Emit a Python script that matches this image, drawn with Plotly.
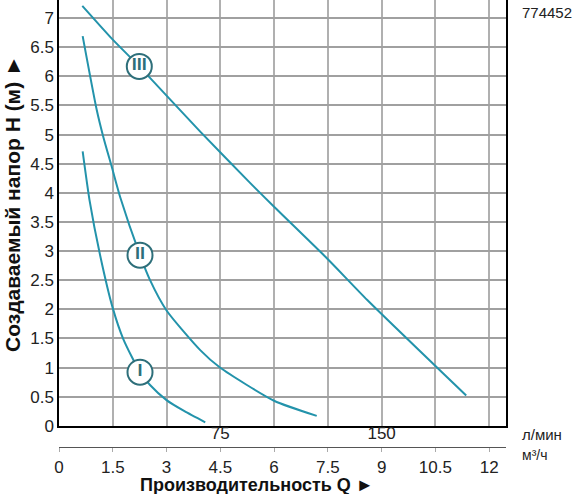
import plotly.graph_objects as go

# ---- data ----
q_I = [0.66, 0.85, 1.15, 1.5, 1.8, 2.26, 2.54, 3.0, 3.5, 4.08]
h_I = [4.71, 3.88, 2.92, 2.02, 1.48, 0.92, 0.70, 0.44, 0.25, 0.06]

q_II = [0.66, 1.05, 1.24, 1.47, 1.71, 2.26, 2.54, 3.0, 3.94, 4.49, 6.0, 7.19]
h_II = [6.69, 5.43, 4.95, 4.45, 3.92, 2.93, 2.5, 1.98, 1.30, 1.0, 0.43, 0.17]

q_III = [0.65, 1.5, 2.24, 3.94, 5.33, 6.0, 7.5, 8.6, 11.36]
h_III = [7.21, 6.63, 6.17, 5.05, 4.17, 3.76, 2.86, 2.16, 0.52]

label_names = ["I", "II", "III"]
label_q = [2.26, 2.26, 2.24]
label_h = [0.92, 2.93, 6.17]

m3h_ticks = [0, 1.5, 3, 4.5, 6, 7.5, 9, 10.5, 12]
lmin_ticks = [75, 150]

Q_MAX = 12.47
H_MAX = 7.31

LINE = "#2393ab"
DARK = "#2e6f7a"

fig = go.Figure()
for q, h in [(q_I, h_I), (q_II, h_II), (q_III, h_III)]:
    fig.add_trace(go.Scatter(x=q, y=h, mode="lines",
                             line=dict(color=LINE, width=2, shape="spline", smoothing=0.6),
                             hoverinfo="skip", showlegend=False))

fig.add_trace(go.Scatter(x=label_q, y=label_h, mode="markers+text", text=label_names,
                         textposition="middle center",
                         textfont=dict(family="DejaVu Sans Condensed, Liberation Sans", size=15,
                                       color=DARK, weight="bold"),
                         marker=dict(size=25, color="white", line=dict(color=DARK, width=2)),
                         hoverinfo="skip", showlegend=False))

# dummy traces for the secondary x axes
fig.add_trace(go.Scatter(x=[0], y=[0], xaxis="x2", mode="markers",
                         marker=dict(opacity=0), hoverinfo="skip", showlegend=False))
fig.add_trace(go.Scatter(x=[0], y=[0], xaxis="x3", mode="markers",
                         marker=dict(opacity=0), hoverinfo="skip", showlegend=False))

FONT = "Liberation Sans, Arial, sans-serif"
W, H = 578, 494
L, R = 59, 72
plot_w = W - L - R

def px_x(p):
    return (p - L) / plot_w

def px_y(p):
    return (H - p) / H

fig.update_layout(
    width=W, height=H,
    margin=dict(l=L, r=R, t=0, b=0, autoexpand=False),
    paper_bgcolor="white", plot_bgcolor="white",
    font=dict(family=FONT, color="#222"),
    xaxis=dict(range=[0, Q_MAX], tick0=0, dtick=1.5, showgrid=True, automargin=False,
               gridcolor="#b0b0b0", gridwidth=1.5, showline=True, linecolor="black",
               linewidth=1.5, mirror=True, showticklabels=False, ticks="", zeroline=False),
    xaxis2=dict(range=[0, Q_MAX], overlaying="x", anchor="free", position=px_y(447),
                tickvals=m3h_ticks, ticktext=[f"{v:g}" for v in m3h_ticks], automargin=False,
                showgrid=False, zeroline=False, showline=True, linecolor="#555", linewidth=1.2,
                ticks="outside", ticklen=4, tickcolor="#aaa", tickfont=dict(size=17, color="#222")),
    xaxis3=dict(range=[0, Q_MAX * 1000 / 60], overlaying="x", anchor="free", position=px_y(421),
                tickvals=lmin_ticks, ticktext=[str(v) for v in lmin_ticks], automargin=False,
                showgrid=False, zeroline=False, showline=False, ticks="",
                tickfont=dict(size=17, color="#222")),
    yaxis=dict(domain=[px_y(425.8), 1], range=[0, H_MAX], tick0=0, dtick=0.5, automargin=False,
               showgrid=True, gridcolor="#a0a0a0", gridwidth=1.5, showline=True,
               linecolor="black", linewidth=1.5, mirror=True, ticks="", zeroline=False,
               tickfont=dict(size=17, color="#222")),
    annotations=[
        dict(text="Производительность Q ►", x=px_x(257), y=px_y(485), xref="paper", yref="paper",
             showarrow=False, font=dict(size=18, color="#111", weight="bold"),
             xanchor="center", yanchor="middle"),
        dict(text="Создаваемый напор H (м) ►", x=px_x(12), y=px_y(204), xref="paper", yref="paper",
             showarrow=False, textangle=-90, font=dict(size=21, color="#111", weight="bold"),
             xanchor="center", yanchor="middle"),
        dict(text="774452", x=px_x(520), y=px_y(12), xref="paper", yref="paper",
             showarrow=False, font=dict(size=15, color="#222"), xanchor="left", yanchor="middle"),
        dict(text="л/мин", x=px_x(520), y=px_y(434), xref="paper", yref="paper",
             showarrow=False, font=dict(size=15, color="#222"), xanchor="left", yanchor="middle"),
        dict(text="м³/ч", x=px_x(520), y=px_y(455), xref="paper", yref="paper",
             showarrow=False, font=dict(size=14, color="#222"), xanchor="left", yanchor="middle"),
    ],
)

fig.write_html("out.html", config={"displayModeBar": False},
               post_script="document.body.style.margin='0';document.body.style.overflow='hidden';")
